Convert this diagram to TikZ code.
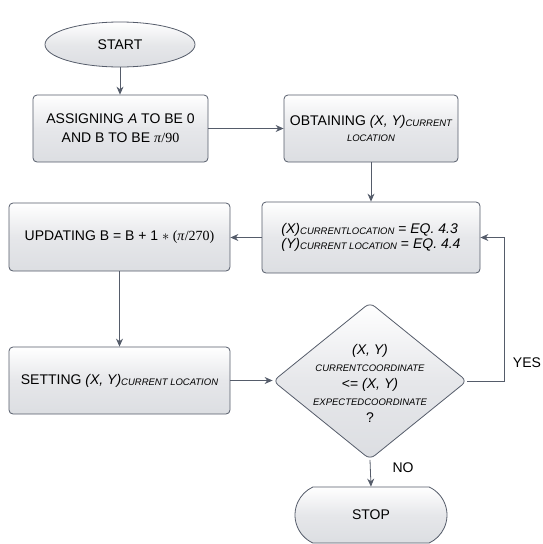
\documentclass[tikz,border=0pt]{standalone}
\usepackage{fontspec}
\setmainfont{Liberation Sans}
\newfontfamily\serifff{Liberation Serif}
\usetikzlibrary{shapes.geometric,shapes.misc,arrows.meta}
\definecolor{edgec}{RGB}{85,92,106}
\definecolor{boxlo}{RGB}{220,222,226}
\definecolor{boxmid}{RGB}{230,231,234}
\newcommand\subtx[1]{\raisebox{-1pt}{\fontsize{9.5}{10}\selectfont\itshape #1}}
\newcommand\subpl[1]{{\fontsize{9.5}{10}\selectfont\itshape #1}}
\tikzset{
  base/.style={draw=edgec, line width=0.8pt, top color=white, bottom color=boxlo, middle color=boxmid, font=\fontsize{14}{19}\selectfont},
  procbox/.style={base, rectangle, rounded corners=4pt, inner sep=0pt, align=center},
  flow/.style={draw=edgec, line width=0.8pt, -{Stealth[length=8pt,width=7pt]}},
  lbl/.style={font=\fontsize{14}{16}\selectfont, inner sep=0pt},
}
\begin{document}
\begin{tikzpicture}[x=1pt,y=-1pt]
\useasboundingbox (0,0) rectangle (542,544);
\node[ellipse, base, minimum width=150pt, minimum height=45pt, inner sep=0pt] (start) at (120,44.5) {START};
\node[procbox, minimum width=175pt, minimum height=67pt] (assign) at (120.5,128.5)
  {ASSIGNING \textit{A} TO BE 0\\AND B TO BE {\serifff\textit{π}/90}};
\node[procbox, minimum width=174pt, minimum height=67pt] (obtain) at (371,128.5)
  {OBTAINING \textit{(X, Y)}\subtx{CURRENT}\\[-4pt]\subtx{LOCATION}};
\node[procbox, minimum width=218pt, minimum height=71pt, align=left] (eq) at (371,237.5)
  {\textit{(X)}\subtx{CURRENTLOCATION} = \textit{EQ. 4.3}\\[-4pt]\textit{(Y)}\subtx{CURRENT LOCATION} = \textit{EQ. 4.4}};
\node[procbox, minimum width=221pt, minimum height=68pt] (update) at (119.5,237)
  {UPDATING B = B + 1 {\serifff$\ast$ (\textit{π}/270)}};
\node[procbox, minimum width=221pt, minimum height=67pt] (set) at (119.5,380.5)
  {SETTING \textit{(X, Y)}\subtx{CURRENT LOCATION}};
\node[diamond, base, rounded corners=6pt, minimum width=194pt, minimum height=157pt, inner sep=0pt] (dec) at (370,381) {};
\node[align=center, font=\fontsize{14}{17}\selectfont, inner sep=0pt] (dectxt) at (370,383.5)
  {\textit{(X, Y)}\\\subpl{CURRENTCOORDINATE}\\<= \textit{(X, Y)}\\\subpl{EXPECTEDCOORDINATE}\\?};
\node[rounded rectangle, base, rounded rectangle arc length=130, minimum width=152pt, minimum height=56pt, inner sep=0pt] (stop) at (371,515) {STOP};
\node[lbl] (yes) at (527,363) {YES};
\node[lbl] (no) at (403,468) {NO};
\draw[flow] (start.south) -- (start.south |- assign.north);
\draw[flow] (assign.east) -- (obtain.west);
\draw[flow] (obtain.south) -- (eq.north);
\draw[flow] (eq.west) -- (eq.west -| update.east);
\draw[flow] (update.south) -- (set.north);
\draw[flow] (set.east) -- (set.east -| dec.west);
\draw[flow] (dec.south) -- (stop.north);
\draw[flow] (dec.east) -- ++(37,0) |- (eq.east);
\end{tikzpicture}
\end{document}
